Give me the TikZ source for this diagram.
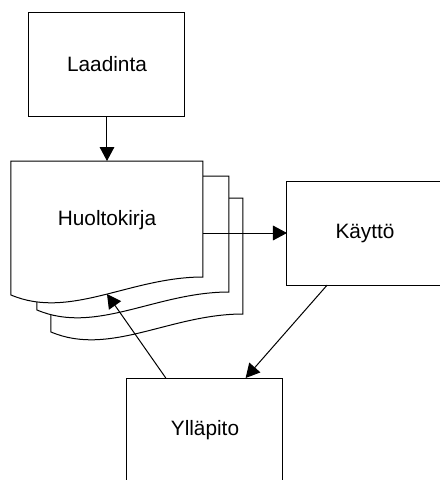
\documentclass[tikz,border=0pt]{standalone}
\usepackage{fontspec}
\setmainfont{Liberation Sans}
\usetikzlibrary{arrows.meta}
\tikzset{
	stepbox/.style={
		draw, line width=0.75pt, minimum width=117pt, minimum height=78pt,
		inner sep=0pt, outer sep=0pt, font=\fontsize{15.6}{18}\selectfont},
	docpage/.style={draw, fill=white, line width=0.75pt},
	flow/.style={line width=0.75pt, -{Triangle[length=10.5pt,width=11pt]}}
}

\begin{document}
\begin{tikzpicture}[x=0.75pt,y=0.75pt,yscale=-1,xscale=1]
\useasboundingbox (0,0) rectangle (440,480);
\clip (0,0) rectangle (440,480);

% pages of the manual, back to front
\draw [docpage, shift={(40,37)}] (11,161) -- (203,161) -- (203,277) .. controls (130,277) and (70,320) .. (11,295) -- cycle ;
\draw [docpage, shift={(26,15)}] (11,161) -- (203,161) -- (203,277) .. controls (130,277) and (70,320) .. (11,295) -- cycle ;
\draw [docpage] (11,161) -- (203,161) -- (203,277) .. controls (130,277) and (70,320) .. (11,295) -- cycle ;

\coordinate (docTop) at (107,161);
\coordinate (docRight) at (203,233);
\coordinate (docWave) at (107,294);

\draw (107,64) node [stepbox] (laadinta) {Laadinta};
\draw (107,220) node [font=\fontsize{15.6}{18}\selectfont] (huolto) {Huoltokirja};
\draw (365,233) node [stepbox] (kaytto) {Käyttö};
\draw (205,430) node [stepbox] (yllapito) {Ylläpito};

\draw [flow] (laadinta) -- (docTop) ;
\draw [flow] (docRight) -- (kaytto.west) ;
\draw [flow] (kaytto.234) -- (yllapito.52) ;
\draw [flow] (yllapito.127) -- (docWave) ;

\end{tikzpicture}
\end{document}
